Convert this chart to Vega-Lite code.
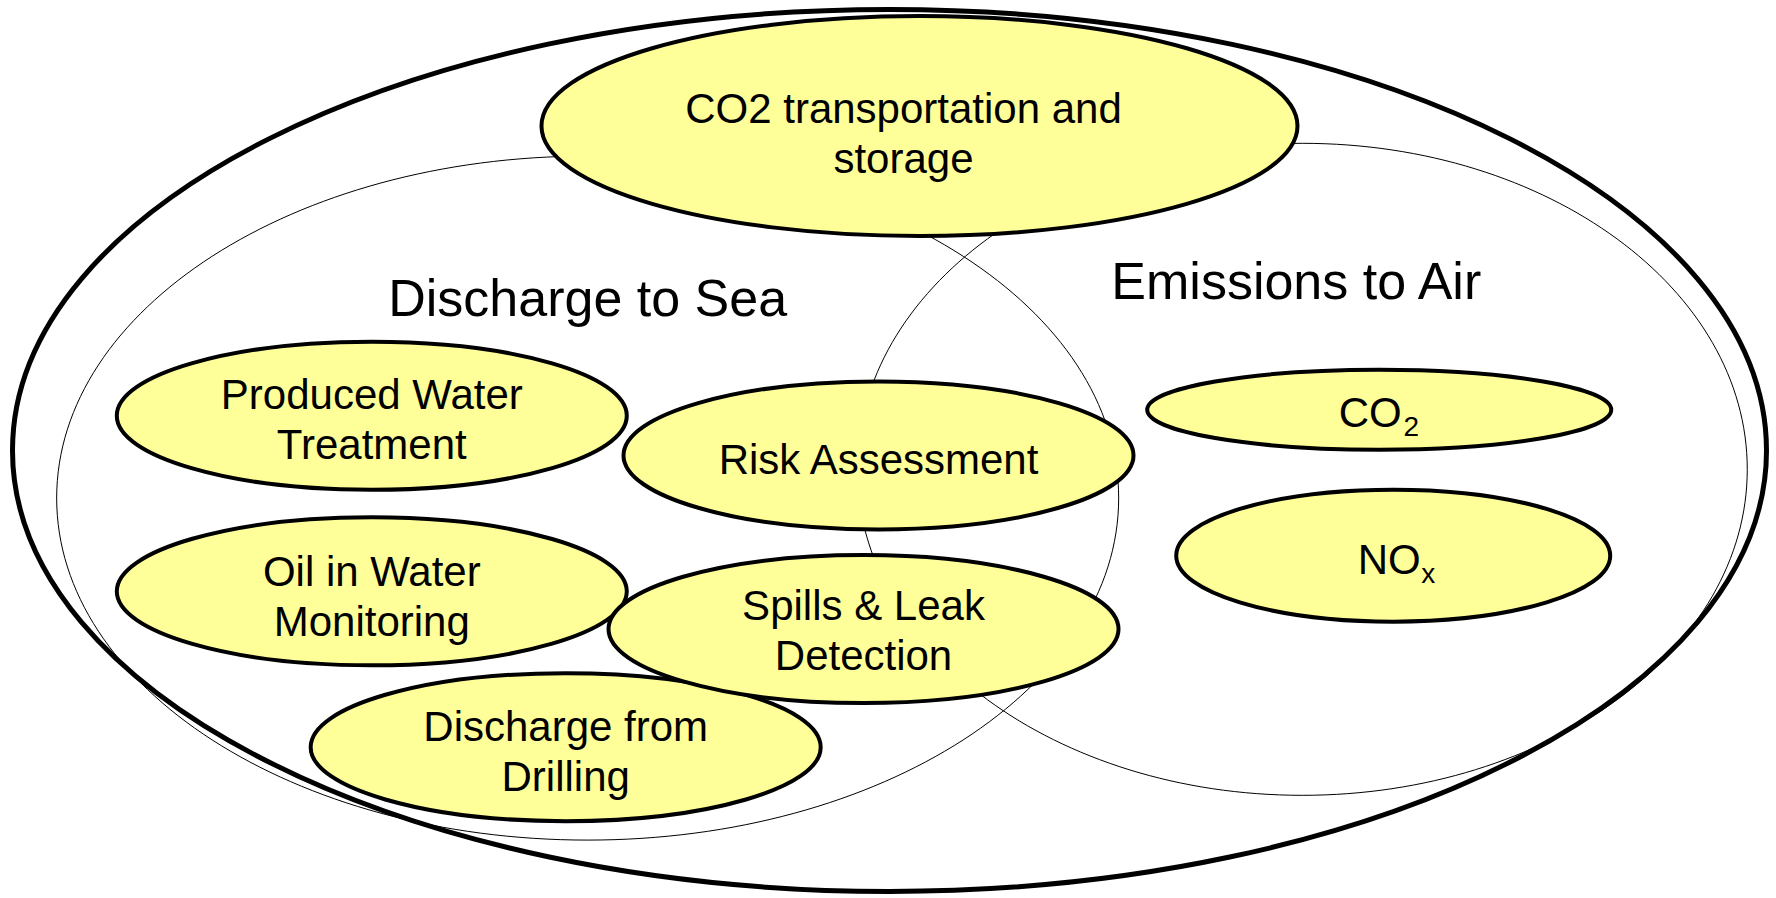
{
  "$schema": "https://vega.github.io/schema/vega-lite/v6.json",
  "width": 1776,
  "height": 898,
  "autosize": {"type": "fit", "contains": "padding"},
  "padding": 0,
  "background": "white",
  "config": {"view": {"stroke": null}},
  "datasets": {
    "ellipses": [
      {"name": "Outer", "kind": "outer", "x": 890, "y": 454},
      {"name": "Discharge to Sea", "kind": "region", "x": 588, "y": 502},
      {"name": "Emissions to Air", "kind": "region", "x": 1303, "y": 473},
      {"name": "CO2 transportation and storage", "kind": "topic", "x": 920, "y": 127},
      {"name": "Produced Water Treatment", "kind": "topic", "x": 372, "y": 419},
      {"name": "Oil in Water Monitoring", "kind": "topic", "x": 372, "y": 596},
      {"name": "Discharge from Drilling", "kind": "topic", "x": 566, "y": 753},
      {"name": "Risk Assessment", "kind": "topic", "x": 879, "y": 459},
      {"name": "Spills & Leak Detection", "kind": "topic", "x": 864, "y": 634},
      {"name": "CO2", "kind": "topic", "x": 1380, "y": 413},
      {"name": "NOx", "kind": "topic", "x": 1394, "y": 560}
    ],
    "labels": [
      {"text": "Discharge to Sea", "role": "region", "x": 588, "y": 302},
      {"text": "Emissions to Air", "role": "region", "x": 1297, "y": 285},
      {"text": "CO2 transportation and", "role": "topic", "x": 904, "y": 111},
      {"text": "storage", "role": "topic", "x": 904, "y": 161},
      {"text": "Produced Water", "role": "topic", "x": 372, "y": 399},
      {"text": "Treatment", "role": "topic", "x": 372, "y": 450},
      {"text": "Oil in Water", "role": "topic", "x": 372, "y": 578},
      {"text": "Monitoring", "role": "topic", "x": 372, "y": 628},
      {"text": "Discharge from", "role": "topic", "x": 566, "y": 734},
      {"text": "Drilling", "role": "topic", "x": 566, "y": 784},
      {"text": "Risk Assessment", "role": "topic", "x": 879, "y": 465},
      {"text": "Spills & Leak", "role": "topic", "x": 864, "y": 612},
      {"text": "Detection", "role": "topic", "x": 864, "y": 662},
      {"text": "CO", "role": "topic", "x": 1371, "y": 417},
      {"text": "2", "role": "sub", "x": 1412, "y": 431},
      {"text": "NO", "role": "topic", "x": 1390, "y": 565},
      {"text": "x", "role": "sub", "x": 1429, "y": 580}
    ]
  },
  "encoding": {
    "x": {"field": "x", "type": "quantitative", "scale": {"domain": [0, 1776], "nice": false, "zero": false}, "axis": null},
    "y": {"field": "y", "type": "quantitative", "scale": {"domain": [0, 898], "nice": false, "zero": false, "reverse": true}, "axis": null},
    "shape": {
      "field": "name", "type": "nominal", "legend": null,
      "scale": {
        "domain": ["Outer", "Discharge to Sea", "Emissions to Air", "CO2 transportation and storage", "Produced Water Treatment", "Oil in Water Monitoring", "Discharge from Drilling", "Risk Assessment", "Spills & Leak Detection", "CO2", "NOx"],
        "range": [
          "M -877 0 C -877 -243.6 -484.4 -441 0 -441 C 484.4 -441 877 -243.6 877 0 C 877 243.6 484.4 441 0 441 C -484.4 441 -877 243.6 -877 0 Z",
          "M -531 0 C -531 -188.9 -293.3 -342 0 -342 C 293.3 -342 531 -188.9 531 0 C 531 188.9 293.3 342 0 342 C -293.3 342 -531 188.9 -531 0 Z",
          "M -445 0 C -445 -180 -245.8 -326 0 -326 C 245.8 -326 445 -180 445 0 C 445 180 245.8 326 0 326 C -245.8 326 -445 180 -445 0 Z",
          "M -378 0 C -378 -60.8 -208.8 -110 0 -110 C 208.8 -110 378 -60.8 378 0 C 378 60.8 208.8 110 0 110 C -208.8 110 -378 60.8 -378 0 Z",
          "M -255 0 C -255 -40.9 -140.8 -74 0 -74 C 140.8 -74 255 -40.9 255 0 C 255 40.9 140.8 74 0 74 C -140.8 74 -255 40.9 -255 0 Z",
          "M -255 0 C -255 -40.9 -140.8 -74 0 -74 C 140.8 -74 255 -40.9 255 0 C 255 40.9 140.8 74 0 74 C -140.8 74 -255 40.9 -255 0 Z",
          "M -255 0 C -255 -40.9 -140.8 -74 0 -74 C 140.8 -74 255 -40.9 255 0 C 255 40.9 140.8 74 0 74 C -140.8 74 -255 40.9 -255 0 Z",
          "M -255 0 C -255 -40.9 -140.8 -74 0 -74 C 140.8 -74 255 -40.9 255 0 C 255 40.9 140.8 74 0 74 C -140.8 74 -255 40.9 -255 0 Z",
          "M -255 0 C -255 -40.9 -140.8 -74 0 -74 C 140.8 -74 255 -40.9 255 0 C 255 40.9 140.8 74 0 74 C -140.8 74 -255 40.9 -255 0 Z",
          "M -232 0 C -232 -22.1 -128.1 -40 0 -40 C 128.1 -40 232 -22.1 232 0 C 232 22.1 128.1 40 0 40 C -128.1 40 -232 22.1 -232 0 Z",
          "M -217 0 C -217 -36.5 -119.8 -66 0 -66 C 119.8 -66 217 -36.5 217 0 C 217 36.5 119.8 66 0 66 C -119.8 66 -217 36.5 -217 0 Z"
        ]
      }
    }
  },
  "layer": [
    {
      "data": {"name": "ellipses"},
      "transform": [{"filter": "datum.kind === 'outer'"}],
      "mark": {"type": "point", "size": 4, "filled": false, "stroke": "black", "opacity": 1},
      "encoding": {"strokeWidth": {"value": 5}}
    },
    {
      "data": {"name": "ellipses"},
      "transform": [{"filter": "datum.kind === 'region'"}],
      "mark": {"type": "point", "size": 4, "filled": false, "stroke": "black", "opacity": 1},
      "encoding": {"strokeWidth": {"value": 1}}
    },
    {
      "data": {"name": "ellipses"},
      "transform": [{"filter": "datum.kind === 'topic'"}],
      "mark": {"type": "point", "size": 4, "filled": true, "fill": "#FFFF99", "stroke": "black", "opacity": 1},
      "encoding": {"strokeWidth": {"value": 4}}
    },
    {
      "data": {"name": "labels"},
      "transform": [{"filter": "datum.role === 'region'"}],
      "mark": {"type": "text", "font": "Liberation Sans", "fontSize": 52, "align": "center", "baseline": "middle", "color": "black"},
      "encoding": {"text": {"field": "text"}, "shape": null}
    },
    {
      "data": {"name": "labels"},
      "transform": [{"filter": "datum.role === 'topic'"}],
      "mark": {"type": "text", "font": "Liberation Sans", "fontSize": 42, "align": "center", "baseline": "middle", "color": "black"},
      "encoding": {"text": {"field": "text"}, "shape": null}
    },
    {
      "data": {"name": "labels"},
      "transform": [{"filter": "datum.role === 'sub'"}],
      "mark": {"type": "text", "font": "Liberation Sans", "fontSize": 28, "align": "center", "baseline": "middle", "color": "black"},
      "encoding": {"text": {"field": "text"}, "shape": null}
    }
  ]
}
